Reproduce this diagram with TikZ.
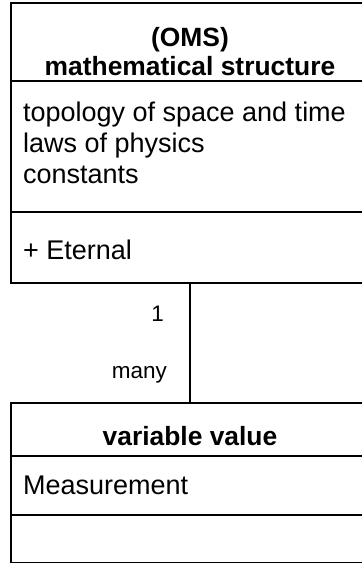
\documentclass[tikz,border=0pt]{standalone}
\usepackage{fontspec}
\setmainfont{Liberation Sans}
\usetikzlibrary{positioning, calc}
\tikzset{
	umlbox/.style  ={rectangle, draw=black, line width=1pt, minimum width=179pt, outer sep=0pt, inner sep=0pt},
	umltitle/.style={font=\fontsize{13.2}{14.5}\selectfont\bfseries, align=center, inner sep=0pt},
	umlitem/.style ={font=\fontsize{13.5}{15.5}\selectfont, align=left, inner sep=0pt},
	mult/.style    ={font=\fontsize{11.25}{13}\selectfont, inner sep=0pt, anchor=base east},
	assoc/.style   ={line width=1pt},
}
\begin{document}
\begin{tikzpicture}[x=0.5pt, y=0.5pt]
	\useasboundingbox (0,0) rectangle (362,-563);
	\clip (0,0) rectangle (362,-563);
	% OMS class
	\node[umlbox, minimum height=39pt, anchor=north west] (omsHead) at (11,-3) {};
	\node[umlbox, minimum height=65.5pt, below=0pt of omsHead] (omsAttr) {};
	\node[umlbox, minimum height=35.5pt, below=0pt of omsAttr] (omsOps) {};
	\node[umltitle, below=11.85pt of omsHead.north] (omsName) {(OMS)\\mathematical structure};
	\node[umlitem, below right=10.5pt and 5.85pt of omsAttr.north west] (omsAttrText) {topology of space and time\\laws of physics\\constants};
	\node[umlitem, below right=13.8pt and 5.85pt of omsOps.north west] (omsOpsText) {+ Eternal};
	% variable value class
	\node[umlbox, minimum height=26.5pt, anchor=north west] (valHead) at (11,-403) {};
	\node[umlbox, minimum height=29.5pt, below=0pt of valHead] (valAttr) {};
	\node[umlbox, minimum height=24pt, below=0pt of valAttr] (valOps) {};
	\node[umltitle, below=11.35pt of valHead.north] (valName) {variable value};
	\node[umlitem, below right=9.85pt and 5.85pt of valAttr.north west] (valAttrText) {Measurement};
	% association
	\draw[assoc] (omsOps.south) -- (valHead.north)
		node[mult, pos=0, xshift=-12.5pt, yshift=-19pt] (multOne) {1}
		node[mult, pos=1, xshift=-11pt, yshift=12.5pt] (multMany) {many};
\end{tikzpicture}
\end{document}
